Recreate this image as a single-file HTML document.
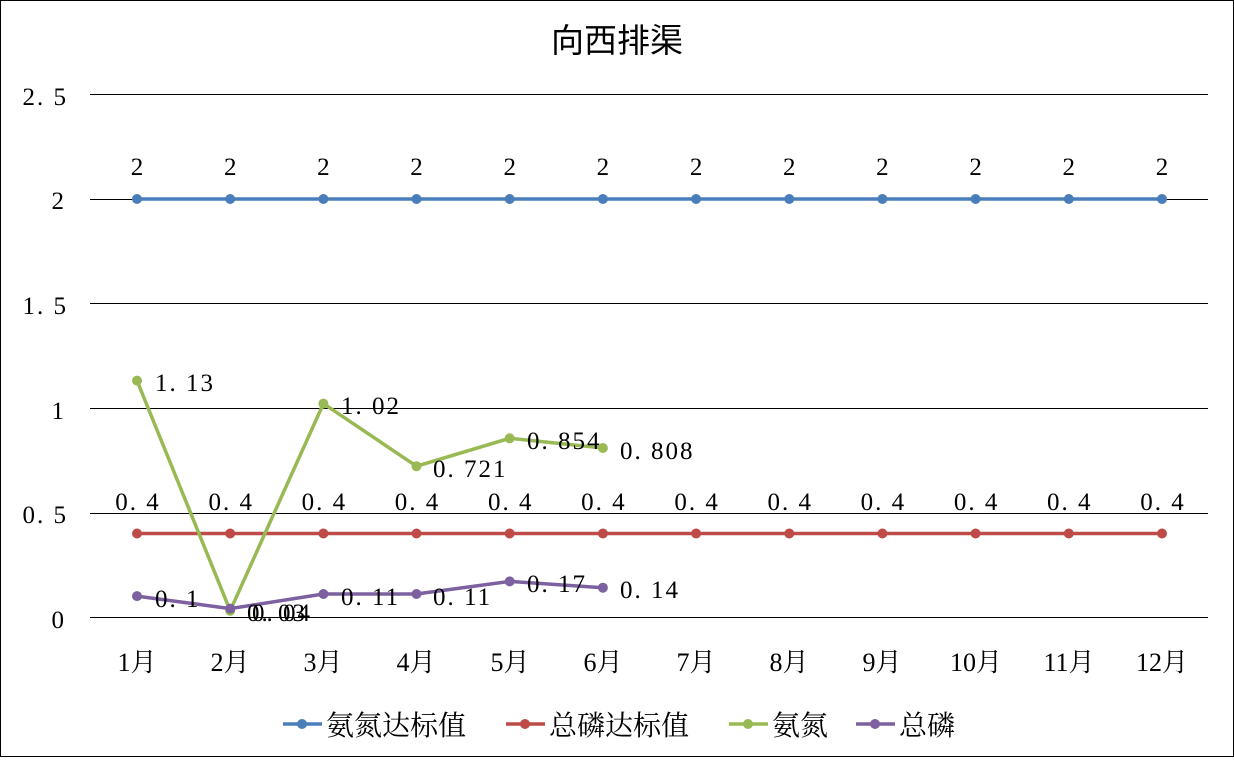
<!DOCTYPE html>
<html><head><meta charset="utf-8"><style>
body{margin:0;background:#fff}
svg text{font-family:"Liberation Serif","Noto Serif CJK SC",serif;fill:#000}
.d{letter-spacing:2px}
</style></head><body>
<svg width="1234" height="757" viewBox="0 0 1234 757" xmlns="http://www.w3.org/2000/svg">
<rect x="0.5" y="0.5" width="1233" height="756" fill="#fff" stroke="#000" stroke-width="1"/>
<text x="617" y="52" font-size="33" text-anchor="middle" style="font-family:'Noto Sans CJK SC',sans-serif">向西排渠</text>
<g stroke="#000" stroke-width="1">
<line x1="90" y1="94.5" x2="1208" y2="94.5"/><line x1="90" y1="199.5" x2="1208" y2="199.5"/>
<line x1="90" y1="303.5" x2="1208" y2="303.5"/><line x1="90" y1="408.5" x2="1208" y2="408.5"/>
<line x1="90" y1="513.5" x2="1208" y2="513.5"/><line x1="90" y1="617.5" x2="1208" y2="617.5"/>
</g>
<g font-size="25" text-anchor="end" class="d">
<text x="68" y="105">2. 5</text><text x="66" y="209">2</text><text x="68" y="314">1. 5</text>
<text x="66" y="419">1</text><text x="68" y="523">0. 5</text><text x="66" y="628">0</text>
</g>
<g font-size="26" text-anchor="middle">
<text x="137" y="671">1月</text><text x="230" y="671">2月</text><text x="323" y="671">3月</text><text x="416" y="671">4月</text><text x="510" y="671">5月</text><text x="603" y="671">6月</text><text x="696" y="671">7月</text><text x="789" y="671">8月</text><text x="882" y="671">9月</text><text x="976" y="671">10月</text><text x="1069" y="671">11月</text><text x="1162" y="671">12月</text>
</g>
<polyline fill="none" stroke="#4a7ebb" stroke-width="3.5" points="137,199 1162,199"/>
<g fill="#4a7ebb"><circle cx="137" cy="199" r="5"/><circle cx="230.2" cy="199" r="5"/><circle cx="323.4" cy="199" r="5"/><circle cx="416.5" cy="199" r="5"/><circle cx="509.7" cy="199" r="5"/><circle cx="602.9" cy="199" r="5"/><circle cx="696.1" cy="199" r="5"/><circle cx="789.3" cy="199" r="5"/><circle cx="882.4" cy="199" r="5"/><circle cx="975.6" cy="199" r="5"/><circle cx="1068.8" cy="199" r="5"/><circle cx="1162" cy="199" r="5"/></g>
<g font-size="25" text-anchor="middle">
<text x="137" y="175">2</text><text x="230.2" y="175">2</text><text x="323.4" y="175">2</text><text x="416.5" y="175">2</text><text x="509.7" y="175">2</text><text x="602.9" y="175">2</text><text x="696.1" y="175">2</text><text x="789.3" y="175">2</text><text x="882.4" y="175">2</text><text x="975.6" y="175">2</text><text x="1068.8" y="175">2</text><text x="1162" y="175">2</text>
</g>
<polyline fill="none" stroke="#be4b48" stroke-width="3.5" points="137,533.5 1162,533.5"/>
<g fill="#be4b48"><circle cx="137" cy="533.5" r="5"/><circle cx="230.2" cy="533.5" r="5"/><circle cx="323.4" cy="533.5" r="5"/><circle cx="416.5" cy="533.5" r="5"/><circle cx="509.7" cy="533.5" r="5"/><circle cx="602.9" cy="533.5" r="5"/><circle cx="696.1" cy="533.5" r="5"/><circle cx="789.3" cy="533.5" r="5"/><circle cx="882.4" cy="533.5" r="5"/><circle cx="975.6" cy="533.5" r="5"/><circle cx="1068.8" cy="533.5" r="5"/><circle cx="1162" cy="533.5" r="5"/></g>
<g font-size="25" text-anchor="middle" class="d">
<text x="138" y="510">0. 4</text><text x="231.2" y="510">0. 4</text><text x="324.4" y="510">0. 4</text><text x="417.5" y="510">0. 4</text><text x="510.7" y="510">0. 4</text><text x="603.9" y="510">0. 4</text><text x="697.1" y="510">0. 4</text><text x="790.3" y="510">0. 4</text><text x="883.4" y="510">0. 4</text><text x="976.6" y="510">0. 4</text><text x="1069.8" y="510">0. 4</text><text x="1163" y="510">0. 4</text>
</g>
<polyline fill="none" stroke="#98b954" stroke-width="3.5" points="137,380.6 230.2,610.7 323.4,403.6 416.5,466.2 509.7,438.3 602.9,448"/>
<g fill="#98b954"><circle cx="137" cy="380.6" r="5"/><circle cx="230.2" cy="610.7" r="5"/><circle cx="323.4" cy="403.6" r="5"/><circle cx="416.5" cy="466.2" r="5"/><circle cx="509.7" cy="438.3" r="5"/><circle cx="602.9" cy="448" r="5"/></g>
<polyline fill="none" stroke="#7d60a0" stroke-width="3.5" points="137,596.1 230.2,608.6 323.4,594 416.5,594 509.7,581.4 602.9,587.7"/>
<g fill="#7d60a0"><circle cx="137" cy="596.1" r="5"/><circle cx="230.2" cy="608.6" r="5"/><circle cx="323.4" cy="594" r="5"/><circle cx="416.5" cy="594" r="5"/><circle cx="509.7" cy="581.4" r="5"/><circle cx="602.9" cy="587.7" r="5"/></g>
<g font-size="25" class="d">
<text x="155" y="391">1. 13</text><text x="341" y="414">1. 02</text><text x="433" y="477">0. 721</text><text x="527" y="449">0. 854</text><text x="620" y="459">0. 808</text>
<text x="155" y="607">0. 1</text><text x="247" y="621">0. 03</text><text x="252" y="621">0. 04</text>
<text x="341" y="605">0. 11</text><text x="433" y="605">0. 11</text><text x="527" y="592">0. 17</text><text x="620" y="598">0. 14</text>
</g>
<g stroke-width="3.5">
<line x1="283" y1="724" x2="322" y2="724" stroke="#4a7ebb"/><circle cx="302" cy="724" r="5" fill="#4a7ebb" stroke="none"/>
<line x1="506" y1="724" x2="545" y2="724" stroke="#be4b48"/><circle cx="525" cy="724" r="5" fill="#be4b48" stroke="none"/>
<line x1="729" y1="724" x2="768" y2="724" stroke="#98b954"/><circle cx="748" cy="724" r="5" fill="#98b954" stroke="none"/>
<line x1="856" y1="724" x2="895" y2="724" stroke="#7d60a0"/><circle cx="875" cy="724" r="5" fill="#7d60a0" stroke="none"/>
</g>
<g font-size="28" style="font-family:'Noto Sans CJK SC',sans-serif">
<text x="326" y="735">氨氮达标值</text><text x="549" y="735">总磷达标值</text><text x="772" y="735">氨氮</text><text x="899" y="735">总磷</text>
</g>
</svg>
</body></html>
